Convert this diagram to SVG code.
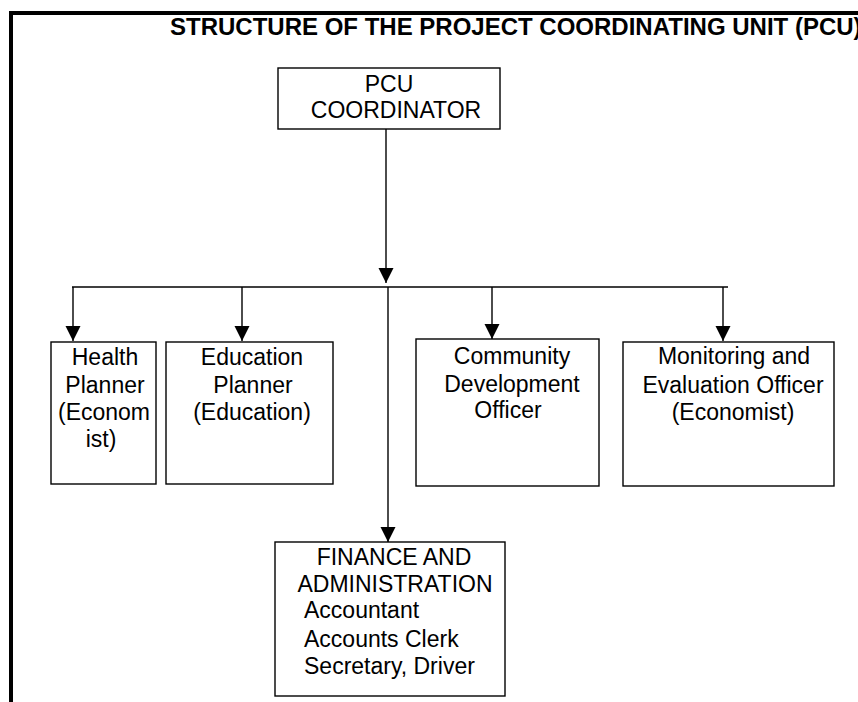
<svg xmlns="http://www.w3.org/2000/svg" width="858" height="702" viewBox="0 0 858 702">
<style>
.box{fill:#fff;stroke:#000;stroke-width:1.4}
.t{font-family:"Liberation Sans",Arial,sans-serif;font-size:23px;fill:#000}
.c{text-anchor:middle}
.con{stroke:#000;stroke-width:1.4;fill:none}
</style>
<defs>
<marker id="ah" viewBox="0 0 10 10" refX="10" refY="5" markerUnits="userSpaceOnUse" markerWidth="15" markerHeight="17" orient="auto">
<path d="M0,0 L10,5 L0,10 z" fill="#000"/>
</marker>
</defs>
<rect width="858" height="702" fill="#fff"/>
<g id="frame">
<path d="M11,702 V13 H858" fill="none" stroke="#000" stroke-width="4"/>
<text x="170" y="35" font-family="'Liberation Sans',Arial,sans-serif" font-size="24" font-weight="bold">STRUCTURE OF THE PROJECT COORDINATING UNIT (PCU)</text>
</g>
<g id="connectors">
<line class="con" x1="386" y1="129" x2="386" y2="283" marker-end="url(#ah)"/>
<line class="con" x1="72" y1="287" x2="728" y2="287"/>
<line class="con" x1="73" y1="287" x2="73" y2="341" marker-end="url(#ah)"/>
<line class="con" x1="242" y1="287" x2="242" y2="341" marker-end="url(#ah)"/>
<line class="con" x1="492" y1="287" x2="492" y2="339" marker-end="url(#ah)"/>
<line class="con" x1="723" y1="287" x2="723" y2="341" marker-end="url(#ah)"/>
<line class="con" x1="388" y1="287" x2="388" y2="542" marker-end="url(#ah)"/>
</g>
<g id="pcu">
<rect class="box" x="278" y="68" width="222" height="61"/>
<text class="t c" x="389" y="92" font-size="24">PCU</text>
<text class="t c" x="396" y="118" font-size="24">COORDINATOR</text>
</g>
<g id="health">
<rect class="box" x="51" y="342" width="105" height="142"/>
<text class="t c" x="105" y="365">Health</text>
<text class="t c" x="105" y="393">Planner</text>
<text class="t c" x="104" y="420">(Econom</text>
<text class="t c" x="101" y="447">ist)</text>
</g>
<g id="education">
<rect class="box" x="166" y="342" width="167" height="142"/>
<text class="t c" x="252" y="365">Education</text>
<text class="t c" x="253" y="393">Planner</text>
<text class="t c" x="252" y="420">(Education)</text>
</g>
<g id="community">
<rect class="box" x="416" y="339" width="183" height="147"/>
<text class="t c" x="512" y="364">Community</text>
<text class="t c" x="512" y="392">Development</text>
<text class="t c" x="508" y="418">Officer</text>
</g>
<g id="monitoring">
<rect class="box" x="623" y="342" width="211" height="144"/>
<text class="t c" x="734" y="364">Monitoring and</text>
<text class="t c" x="733" y="393">Evaluation Officer</text>
<text class="t c" x="733" y="420">(Economist)</text>
</g>
<g id="finance">
<rect class="box" x="275" y="542" width="230" height="154"/>
<text class="t c" x="394" y="565">FINANCE AND</text>
<text class="t c" x="395" y="592">ADMINISTRATION</text>
<text class="t" x="304" y="618">Accountant</text>
<text class="t" x="304" y="647">Accounts Clerk</text>
<text class="t" x="304" y="674">Secretary, Driver</text>
</g>
</svg>
